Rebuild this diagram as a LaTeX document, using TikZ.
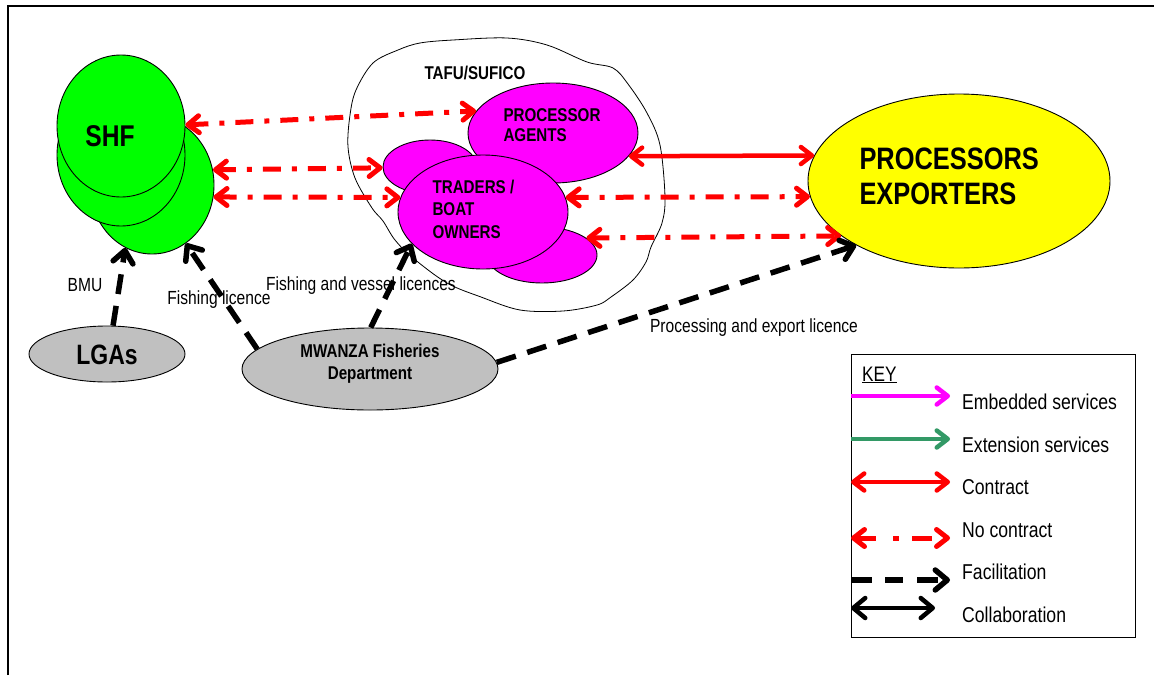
\documentclass[tikz,border=0pt]{standalone}
\usepackage{fontspec}
\setmainfont{Liberation Sans}[FakeStretch=0.82]
\usetikzlibrary{arrows.meta,shapes.geometric}

\definecolor{shfgreen}{HTML}{00FF00}
\definecolor{agentpink}{HTML}{FF00FF}
\definecolor{procyellow}{HTML}{FFFF00}
\definecolor{govgray}{HTML}{C0C0C0}
\definecolor{extgreen}{HTML}{339966}

\begin{document}
\begin{tikzpicture}[x=1pt,y=-1pt,
  oval/.style={ellipse, draw=black, line width=0.9pt, inner sep=0pt},
  bigbold/.style={font=\bfseries\fontsize{30}{35}\selectfont},
  midbold/.style={font=\bfseries\fontsize{18.5}{20.5}\selectfont},
  lbl/.style={font=\fontsize{19}{22}\selectfont, inner sep=0pt},
  keylbl/.style={font=\fontsize{21.5}{24}\selectfont, anchor=west, inner sep=0pt},
  barb/.tip={Straight Barb[length=11pt,width=17pt,round]},
  bigbarb/.tip={Straight Barb[length=12pt,width=20pt,round]},
  nocontract/.style={draw=red, line width=5pt,
    dash pattern=on 18pt off 11pt on 5pt off 11pt, barb-barb},
  contract/.style={draw=red, line width=4.5pt, barb-barb},
  facil/.style={draw=black, line width=5.5pt,
    dash pattern=on 20pt off 12pt, -bigbarb},
  collab/.style={draw=black, line width=4.5pt, bigbarb-bigbarb},
  service/.style={line width=4.5pt, -barb}
]
\useasboundingbox (0,0) rectangle (1154,675);

% page frame
\draw[line width=1.5pt] (8,675) -- (8,6) -- (1154,6);

% TAFU/SUFICO group outline
\draw[line width=0.8pt, fill=white] plot[smooth cycle, tension=0.55] coordinates {
  (348,147) (350,115) (356,90) (373,63) (398,50) (420,43) (453,40)
  (507,38) (547,45) (587,62) (613,68) (628,84) (647,113) (660,145)
  (665,197) (662,223) (651,247) (646,262) (633,280) (611,297)
  (597,305) (563,311) (520,310) (481,297) (447,283) (413,258)
  (395,240) (383,221) (372,208) (355,178)};
\node[midbold] (tafu) at (475,73) {TAFU/SUFICO};

% smallholder fishers
\node[oval, fill=shfgreen, minimum width=124pt, minimum height=138pt] (shf3) at (152,185) {};
\node[oval, fill=shfgreen, minimum width=128pt, minimum height=142pt] (shf2) at (121,155) {};
\node[oval, fill=shfgreen, minimum width=128pt, minimum height=142pt] (shf1) at (121,126) {};
\node[bigbold] (shft) at (110,136) {SHF};

% government bodies
\node[oval, fill=govgray, minimum width=156pt, minimum height=56pt] (lga) at (107,354) {};
\node[font=\bfseries\fontsize{28}{30}\selectfont] (lgat) at (107,355) {LGAs};
\node[oval, fill=govgray, minimum width=256pt, minimum height=82pt] (mwz) at (370,369) {};
\node[align=center, font=\bfseries\fontsize{18.5}{22}\selectfont] (mwzt) at (370,364)
  {MWANZA Fisheries\\Department};

% agents and traders
\node[oval, fill=agentpink, minimum width=94pt, minimum height=54pt] (tsmall) at (430,167) {};
\node[oval, fill=agentpink, minimum width=110pt, minimum height=56pt] (tlow) at (542,255) {};
\node[oval, fill=agentpink, minimum width=170pt, minimum height=100pt] (pa) at (553,133) {};
\node[oval, fill=agentpink, minimum width=170pt, minimum height=114pt] (trd) at (483,212) {};
\node[midbold, align=left, anchor=west] (pat) at (500,125) {PROCESSOR\\AGENTS};
\node[align=left, anchor=west, font=\bfseries\fontsize{18.5}{22.5}\selectfont]
  (trdt) at (429,209) {TRADERS /\\BOAT\\OWNERS};

% processors and exporters
\node[oval, fill=procyellow, minimum width=302pt, minimum height=174pt] (proc) at (959,181) {};
\node[align=left, anchor=west, font=\bfseries\fontsize{31}{35}\selectfont]
  (proct) at (856,176) {PROCESSORS\\EXPORTERS};

% connector labels
\node[lbl] (bmu) at (85,285) {BMU};
\node[lbl] (fl) at (219,300) {Fishing licence};
\node[lbl] (fvl) at (361,286) {Fishing and vessel licences};
\node[lbl] (pel) at (754,328) {Processing and export licence};

% no-contract links
\draw[nocontract] (shf1.1) -- (pa.164);
\draw[nocontract] (shf3.14) -- (tsmall.181);
\draw[nocontract] (shf3.-11) -- (trd.170);
\draw[nocontract] (trd.10) -- (proc.186);
\draw[nocontract] (tlow.21) -- (proc.205);

% contract link
\draw[contract] (pa.-17) -- (proc.170);

% facilitation links
\draw[facil] (lga.78) -- (shf3.-113);
\draw[facil] (mwz.170) -- (shf3.-60);
\draw[facil] (mwz.89) -- (trd.204);
\draw[facil] (mwz.3) -- (proc.212);

% key
\node[draw=black, line width=0.9pt, minimum width=284pt, minimum height=283pt,
  inner sep=0pt, anchor=north west] (key) at (851,354) {};
\node[keylbl, font=\fontsize{21}{24}\selectfont] (keyt) at (862,375) {\underline{KEY}};

\coordinate (e1) at (851,396); \coordinate (e2) at (950,396);
\draw[service, agentpink] (e1) -- (e2);
\node[keylbl] (et) at (962,402) {Embedded services};

\coordinate (x1) at (851,439); \coordinate (x2) at (950,439);
\draw[service, extgreen] (x1) -- (x2);
\node[keylbl] (xt) at (962,445) {Extension services};

\coordinate (c1) at (851,482); \coordinate (c2) at (950,482);
\draw[contract] (c1) -- (c2);
\node[keylbl] (ct) at (962,487) {Contract};

\coordinate (n1) at (851,538); \coordinate (n2) at (950,538);
\draw[nocontract, dash pattern=on 20pt off 17pt on 6pt off 13pt] (n1) -- (n2);
\node[keylbl] (nt) at (962,530) {No contract};

\coordinate (f1) at (851,580); \coordinate (f2) at (950,580);
\draw[facil, dash pattern=on 21pt off 13pt on 18pt off 14pt] (f1) -- (f2);
\node[keylbl] (ft) at (962,572) {Facilitation};

\coordinate (l1) at (851,608); \coordinate (l2) at (935,608);
\draw[collab] (l1) -- (l2);
\node[keylbl] (lt) at (962,615) {Collaboration};
\end{tikzpicture}
\end{document}
